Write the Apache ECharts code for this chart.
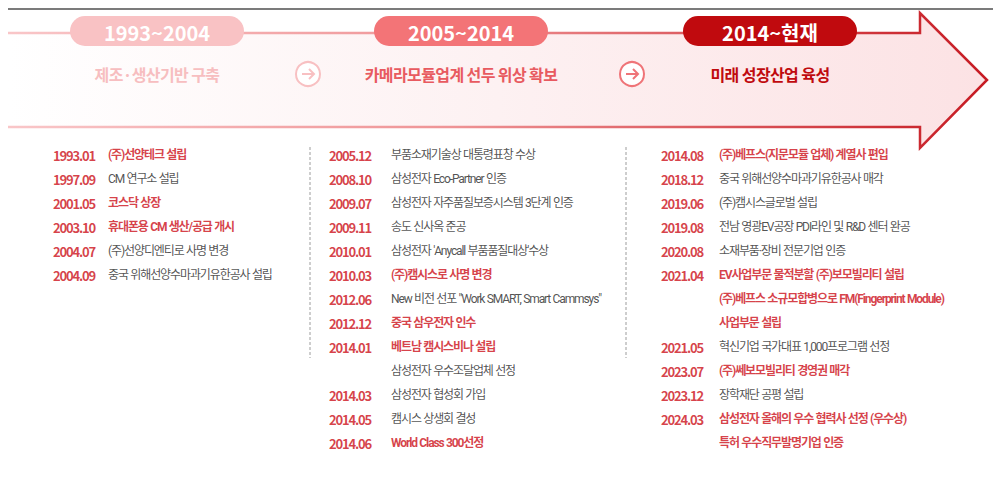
<!DOCTYPE html>
<html>
<head>
<meta charset="utf-8">
<script src="https://cdn.jsdelivr.net/npm/echarts@6/dist/echarts.min.js"></script>
<style>
html, body { margin: 0; padding: 0; background: #fff; }
#main { width: 999px; height: 478px; }
/* the original lettering is condensed */
#main text[style*="12px"] { letter-spacing: -1.1px; word-spacing: 0.5px; }
#main text[style*="13px"] { letter-spacing: -1.2px; }
#main text[style*="16px"] { letter-spacing: -0.6px; }
</style>
</head>
<body>
<div id="main"></div>
<script>
// 연혁 데이터
const periods = ['1993~2004', '2005~2014', '2014~현재'];
const themes = ['제조·생산기반 구축', '카메라모듈업계 선두 위상 확보', '미래 성장산업 육성'];

const col1Dates = ['1993.01', '1997.09', '2001.05', '2003.10', '2004.07', '2004.09'];
const col1Events = ['(주)선양테크 설립', 'CM 연구소 설립', '코스닥 상장', '휴대폰용 CM 생산/공급 개시',
  '(주)선양디엔티로 사명 변경', '중국 위해선양수마과기유한공사 설립'];
const col1Key = [1, 0, 1, 1, 0, 0];

const col2Dates = ['2005.12', '2008.10', '2009.07', '2009.11', '2010.01', '2010.03', '2012.06',
  '2012.12', '2014.01', '', '2014.03', '2014.05', '2014.06'];
const col2Events = ['부품소재기술상 대통령표창 수상', '삼성전자 Eco-Partner 인증', '삼성전자 자주품질보증시스템 3단계 인증',
  '송도 신사옥 준공', "삼성전자 'Anycall 부품품질대상'수상", '(주)캠시스로 사명 변경',
  'New 비전 선포 "Work SMART, Smart Cammsys"', '중국 삼우전자 인수', '베트남 캠시스비나 설립',
  '삼성전자 우수조달업체 선정', '삼성전자 협성회 가입', '캠시스 상생회 결성', 'World Class 300선정'];
const col2Key = [0, 0, 0, 0, 0, 1, 0, 1, 1, 0, 0, 0, 1];

const col3Dates = ['2014.08', '2018.12', '2019.06', '2019.08', '2020.08', '2021.04', '', '',
  '2021.05', '2023.07', '2023.12', '2024.03', ''];
const col3Events = ['(주)베프스(지문모듈 업체) 계열사 편입', '중국 위해선양수마과기유한공사 매각', '(주)캠시스글로벌 설립',
  '전남 영광EV공장 PDI라인 및 R&D 센터 완공', '소재부품·장비 전문기업 인증', 'EV사업부문 물적분할 (주)보모빌리티 설립',
  '(주)베프스 소규모합병으로 FM(Fingerprint Module)', '사업부문 설립', '혁신기업 국가대표 1,000프로그램 선정',
  '(주)쎄보모빌리티 경영권 매각', '장학재단 공평 설립', '삼성전자 올해의 우수 협력사 선정 (우수상)', '특허 우수직무발명기업 인증'];
const col3Key = [1, 0, 0, 0, 0, 1, 1, 1, 0, 1, 0, 1, 1];

const columns = [
  { dates: col1Dates, events: col1Events, key: col1Key },
  { dates: col2Dates, events: col2Events, key: col2Key },
  { dates: col3Dates, events: col3Events, key: col3Key }
];

// 레이아웃
const FONT = '"Noto Sans CJK KR", "Noto Sans", sans-serif';
const TEXT_FONT = 'Roboto, "Noto Sans CJK KR", sans-serif';
const RED = '#cc0f19';
const INK = '#262626';
const phaseX = [157, 461, 770];
const PILL_Y = 31;
const pillColors = ['#f9c2c4', '#f37477', '#c00a0e'];
const themeColors = ['#f7bec0', '#e85a60', '#c00a0e'];
const colDateX = [53, 329, 661];
const colTextX = [108, 391, 719];

const chart = echarts.init(document.getElementById('main'), null, { renderer: 'svg' });

const arrowPts = [[8, 33], [920, 33], [920, 13], [987, 80], [920, 148], [920, 127], [8, 127]];

function circleArrow(x, color) {
  return {
    type: 'group', x: x, y: 74, z: 1,
    children: [
      { type: 'circle', shape: { cx: 0, cy: 0, r: 12 }, style: { fill: '#fff', stroke: color, lineWidth: 2 } },
      { type: 'line', shape: { x1: -6, y1: 0, x2: 6, y2: 0 }, style: { stroke: color, lineWidth: 2 } },
      { type: 'polyline', shape: { points: [[1, -5], [6, 0], [1, 5]] }, style: { stroke: color, lineWidth: 2, fill: null } }
    ]
  };
}

const series = [{
  type: 'custom',
  xAxisIndex: 0,
  yAxisIndex: 0,
  silent: true,
  z: 5,
  data: periods.map((p, i) => [phaseX[i], i]),
  renderItem: function (params, api) {
    const i = api.value(1);
    const c = api.coord([api.value(0), PILL_Y]);
    return {
      type: 'group',
      children: [
        { type: 'rect', shape: { x: c[0] - 87, y: c[1] - 15, width: 174, height: 30, r: 15 },
          style: { fill: pillColors[i] } },
        { type: 'text', style: { text: periods[i], x: c[0], y: c[1] + 1, align: 'center', verticalAlign: 'middle',
          fill: '#fff', fontSize: 20, fontWeight: 'bold', fontFamily: FONT } },
        { type: 'text', style: { text: themes[i], x: c[0], y: c[1] + 43, align: 'center', verticalAlign: 'middle',
          fill: themeColors[i], fontSize: 16, fontWeight: 'bold', fontFamily: FONT } }
      ]
    };
  }
}];

columns.forEach(function (col, c) {
  series.push({
    type: 'scatter',
    xAxisIndex: 1,
    yAxisIndex: 1,
    symbolSize: 0,
    silent: true,
    data: col.dates.map((d, i) => ({ value: [colDateX[c], i], name: d })).filter(o => o.name),
    label: { show: true, position: 'right', distance: 0, formatter: '{b}', color: RED,
      fontSize: 13, fontWeight: 'bold', fontFamily: FONT }
  });
  series.push({
    type: 'scatter',
    xAxisIndex: 1,
    yAxisIndex: 1,
    symbolSize: 0,
    silent: true,
    data: col.events.map((e, i) => ({
      value: [colTextX[c], i],
      name: e,
      label: col.key[i] ? { color: RED, fontWeight: 'bold' } : {}
    })),
    label: { show: true, position: 'right', distance: 0, formatter: '{b}', color: INK,
      fontSize: 12, fontFamily: TEXT_FONT }
  });
});

chart.setOption({
  animation: false,
  grid: [
    { left: 0, top: 0, width: 999, height: 478 },
    { left: 0, top: 143, width: 999, height: 312 }
  ],
  xAxis: [
    { gridIndex: 0, type: 'value', min: 0, max: 999, show: false },
    { gridIndex: 1, type: 'value', min: 0, max: 999, show: false }
  ],
  yAxis: [
    { gridIndex: 0, type: 'value', min: 0, max: 478, inverse: true, show: false },
    { gridIndex: 1, type: 'value', min: -0.5, max: 12.5, inverse: true, show: false }
  ],
  graphic: [
    { type: 'line', z: 1, shape: { x1: 8, y1: 9, x2: 993, y2: 9 }, style: { stroke: '#7b7b7b', lineWidth: 2 } },
    { type: 'polygon', z: 0, shape: { points: arrowPts },
      style: { fill: new echarts.graphic.LinearGradient(0, 0, 1, 0, [
        { offset: 0, color: '#ffffff' }, { offset: 0.5, color: '#fdf1f2' }, { offset: 1, color: '#fce2e4' }]) } },
    { type: 'polyline', z: 1, shape: { points: arrowPts },
      style: { fill: null, lineWidth: 2.5, stroke: new echarts.graphic.LinearGradient(0, 0, 1, 0, [
        { offset: 0, color: '#f9c6c8' }, { offset: 0.45, color: '#ef9496' }, { offset: 1, color: '#c61a22' }]) } },
    circleArrow(308, '#f8c0c2'),
    circleArrow(632, '#ef7478'),
    { type: 'line', z: 1, shape: { x1: 310, y1: 147, x2: 310, y2: 358 },
      style: { stroke: '#9c9c9c', lineWidth: 1, lineDash: [3, 2] } },
    { type: 'line', z: 1, shape: { x1: 626, y1: 147, x2: 626, y2: 358 },
      style: { stroke: '#9c9c9c', lineWidth: 1, lineDash: [3, 2] } }
  ],
  series: series
});
</script>
</body>
</html>
